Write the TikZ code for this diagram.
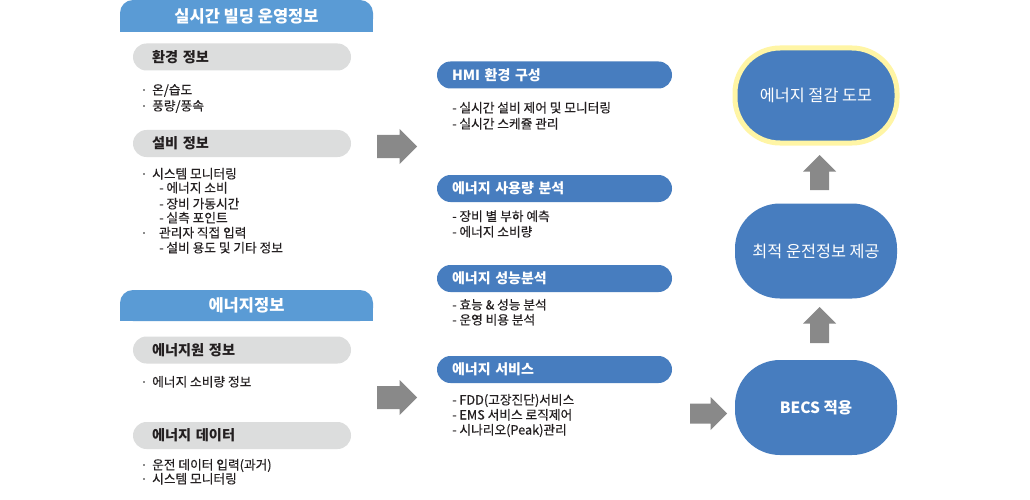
\documentclass[tikz,border=0pt]{standalone}
\usepackage{fontspec}
\setmainfont{Noto Sans CJK KR}
\newfontfamily\medfont{Noto Sans CJK KR}[FakeBold=0.35]
\definecolor{hdrblue}{HTML}{5A9BD5}
\definecolor{pillblue}{HTML}{477DBF}
\definecolor{pillgray}{HTML}{DCDDDD}
\definecolor{arrgray}{HTML}{898989}
\definecolor{txt}{HTML}{231F20}
\definecolor{bulgray}{HTML}{8C8C8C}
\definecolor{glow}{HTML}{FFF5A5}
\newcommand{\bul}[1][9pt]{\makebox[#1][l]{\textcolor{bulgray}{\rule[0.28em]{2.2pt}{2.2pt}}}}
\begin{document}
\begin{tikzpicture}[x=1pt,y=-1pt,
  hdr/.style={fill=hdrblue, rounded corners=13pt, minimum width=253pt, minimum height=32pt, inner sep=0pt, text=white, font=\fontsize{16.5}{19}\selectfont\bfseries},
  graypill/.style={fill=pillgray, rounded corners=13.5pt, minimum height=27pt, inner xsep=19pt, inner ysep=0pt, text width=180pt, align=left, text=txt, font=\fontsize{14.2}{16}\selectfont\bfseries},
  bluepill/.style={fill=pillblue, rounded corners=13.5pt, minimum height=27pt, inner xsep=15pt, inner ysep=0pt, text width=205pt, align=left, text=white, font=\fontsize{14}{16}\selectfont\bfseries},
  item/.style={anchor=base west, inner sep=0pt, text=txt, font=\fontsize{12.7}{14}\medfont},
  goal/.style={fill=pillblue, rounded corners=45pt, minimum width=162pt, minimum height=95pt, inner sep=0pt, text=white, font=\fontsize{16.3}{19}\selectfont},
  blockarrow/.style={fill=arrgray, draw=none}
]
\useasboundingbox (0,0) rectangle (1030,500);
\fill[white] (0,0) rectangle (1030,500);

% ---- left column: headers
\fill[hdrblue] (120,16) rectangle (373,32);
\node[hdr] (h1) at (246.5,16) {실시간 빌딩 운영정보};
\fill[hdrblue] (120,306) rectangle (373,321);
\node[hdr, minimum height=31pt] (h2) at (246.5,305.5) {에너지정보};

% ---- left column: gray pills
\node[graypill] (env) at (242,57) {환경 정보};
\node[graypill] (fac) at (242,143.5) {설비 정보};
\node[graypill] (src) at (242,350) {에너지원 정보};
\node[graypill] (dat) at (242,435.5) {에너지 데이터};

% ---- left column: items
\node[item] (e1) at (143,94.5) {\bul 온/습도};
\node[item] (e2) at (143,110.5) {\bul 풍량/풍속};
\node[item] (f1) at (143,178.5) {\bul 시스템 모니터링};
\node[item] (f2) at (159,192.5) {- 에너지 소비};
\node[item] (f3) at (159,208.5) {- 장비 가동시간};
\node[item] (f4) at (159,222.5) {- 실측 포인트};
\node[item] (f5) at (143,237.5) {\bul[13pt] 관리자 직접 입력};
\node[item] (f6) at (159,252.5) {- 설비 용도 및 기타 정보};
\node[item] (s1) at (143,386.5) {\bul 에너지 소비량 정보};
\node[item] (d1) at (143,469.5) {\bul 운전 데이터 입력(과거)};
\node[item] (d2) at (143,483.5) {\bul 시스템 모니터링};

% ---- block arrows
\fill[blockarrow] (377,135) -- (399.5,135) -- (399.5,129) -- (417,146.5) -- (399.5,164) -- (399.5,158) -- (377,158) -- cycle;
\fill[blockarrow] (377,386) -- (399.5,386) -- (399.5,380) -- (417,397.5) -- (399.5,415) -- (399.5,409) -- (377,409) -- cycle;
\fill[blockarrow] (690,403.5) -- (710.5,403.5) -- (710.5,397) -- (727,413.5) -- (710.5,430) -- (710.5,423.5) -- (690,423.5) -- cycle;
\fill[blockarrow] (810,190) -- (810,171.5) -- (803,171.5) -- (819.5,155) -- (836,171.5) -- (829,171.5) -- (829,190) -- cycle;
\fill[blockarrow] (810,343) -- (810,323.5) -- (803,323.5) -- (819.5,307) -- (836,323.5) -- (829,323.5) -- (829,343) -- cycle;

% ---- middle column
\node[bluepill] (hmi) at (554.5,75) {HMI 환경 구성};
\node[item] (m1) at (452,112.5) {- 실시간 설비 제어 및 모니터링};
\node[item] (m2) at (452,128.5) {- 실시간 스케쥴 관리};
\node[bluepill] (use) at (554.5,188.5) {에너지 사용량 분석};
\node[item] (m3) at (452,221) {- 장비 별 부하 예측};
\node[item] (m4) at (452,236.5) {- 에너지 소비량};
\node[bluepill] (perf) at (554.5,278.5) {에너지 성능분석};
\node[item] (m5) at (452,309.5) {- 효능 \& 성능 분석};
\node[item] (m6) at (452,324.5) {- 운영 비용 분석};
\node[bluepill] (svc) at (554.5,369.5) {에너지 서비스};
\node[item] (m7) at (452,404.5) {- FDD(고장진단)서비스};
\node[item] (m8) at (452,419.5) {- EMS 서비스 로직제어};
\node[item] (m9) at (452,434.5) {- 시나리오(Peak)관리};

% ---- right column
\node[goal, draw=glow, line width=5pt] (save) at (816,95.5) {에너지 절감 도모};
\node[goal] (opt) at (816,251) {최적 운전정보 제공};
\node[goal, font=\fontsize{15.5}{18}\selectfont\bfseries] (becs) at (816,407.5) {BECS 적용};
\end{tikzpicture}
\end{document}
